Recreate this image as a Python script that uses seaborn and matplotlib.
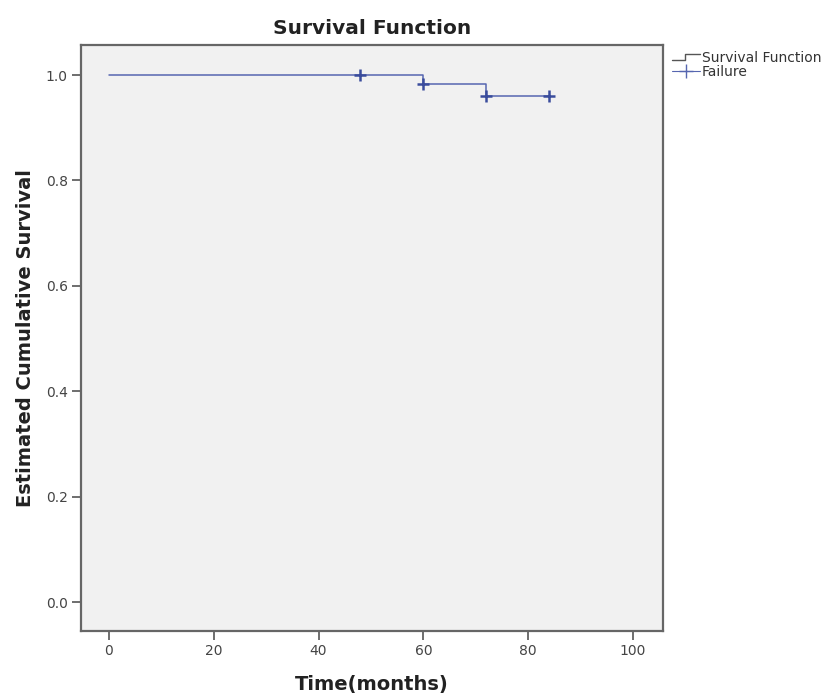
import matplotlib
matplotlib.use("Agg")
import matplotlib.pyplot as plt
from matplotlib.lines import Line2D
from matplotlib.legend_handler import HandlerBase
import seaborn as sns
import pandas as pd

# Data
step_times = [0, 60, 72, 84]
step_surv = [1.0, 0.982, 0.961, 0.961]
censor_times = [48, 60, 72, 84]
censor_surv = [1.0, 0.982, 0.961, 0.961]
x_ticks = [0, 20, 40, 60, 80, 100]
y_ticks = [0.0, 0.2, 0.4, 0.6, 0.8, 1.0]

sns.set_theme(style="white")
plt.rcParams['font.family'] = ['DejaVu Sans']

line_color = "#5666b0"
mark_color = "#3a4c9c"

fig = plt.figure(figsize=(8.3, 6.96), dpi=100)
ax = fig.add_axes([0.0976, 0.0934, 0.701, 0.842])
ax.set_facecolor("#f1f1f1")

df_step = pd.DataFrame({"t": step_times, "s": step_surv})
df_cens = pd.DataFrame({"t": censor_times, "s": censor_surv})

sns.lineplot(data=df_step, x="t", y="s", drawstyle="steps-post", color=line_color,
             linewidth=1.1, ax=ax, legend=False)
sns.scatterplot(data=df_cens, x="t", y="s", marker="+", s=80, color=mark_color,
                linewidth=1.8, ax=ax, legend=False, zorder=3)

ax.set_xlim(-5.33, 105.7)
ax.set_ylim(-0.055, 1.057)
ax.set_xticks(x_ticks)
ax.set_xticklabels([str(v) for v in x_ticks])
ax.set_yticks(y_ticks)
ax.set_yticklabels([f"{v:.1f}" for v in y_ticks])
ax.tick_params(axis="both", which="both", direction="out", length=6.5, width=1.2,
               color="#555555", labelsize=10, labelcolor="#444444", bottom=True, left=True,
               pad=3)

for sp in ax.spines.values():
    sp.set_color("#666666")
    sp.set_linewidth(1.6)

ax.set_title("Survival Function", fontsize=14.5, fontweight="bold", color="#222222", pad=8)
ax.set_xlabel("Time(months)", fontsize=14, fontweight="bold", color="#222222", labelpad=12)
ax.set_ylabel("Estimated Cumulative Survival", fontsize=14, fontweight="bold", color="#222222", labelpad=8)


class StepHandler(HandlerBase):
    def create_artists(self, legend, orig_handle, xdescent, ydescent, width, height, fontsize, trans):
        x0, x1 = -xdescent, -xdescent + width
        xm = x0 + width * 0.45
        ylo = -ydescent + height * 0.2
        yhi = -ydescent + height * 0.8
        ln = Line2D([x0, xm, xm, x1], [ylo, ylo, yhi, yhi], color=orig_handle.get_color(),
                    linewidth=orig_handle.get_linewidth(), transform=trans)
        return [ln]


step_handle = Line2D([0], [0], color="#555555", linewidth=1.0)
fail_handle = Line2D([0], [0], color=line_color, linewidth=0.8, marker="+", markersize=10,
                     markeredgewidth=1.0)
leg = fig.legend([step_handle, fail_handle], ["Survival Function", "Failure"], loc="upper left",
                 bbox_to_anchor=(0.803, 0.935), frameon=False, fontsize=10,
                 handlelength=2.0, handletextpad=0.15, labelspacing=0.0,
                 borderaxespad=0.0, handler_map={step_handle: StepHandler()})
for t in leg.get_texts():
    t.set_color("#333333")

fig.savefig("out.png", dpi=100)
